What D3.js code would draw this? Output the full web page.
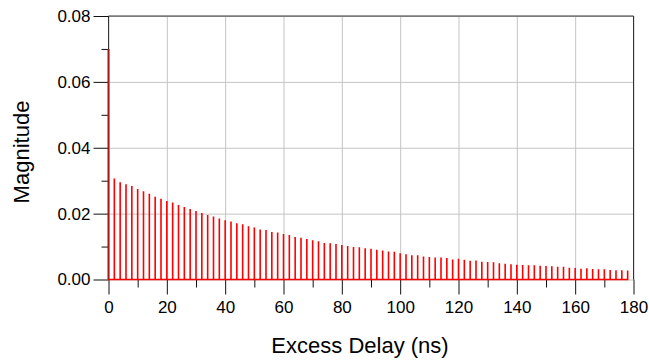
<!DOCTYPE html>
<html>
<head>
<meta charset="utf-8">
<script src="https://cdn.jsdelivr.net/npm/d3@7"></script>
<style>
  html, body { margin: 0; padding: 0; background: #fff; }
  svg text { font-family: Arial, "Liberation Sans", sans-serif; fill: #000; }
</style>
</head>
<body>
<svg id="chart" width="649" height="362"></svg>
<script>
// excess delay (ns) of each tap
const delays = [
  0, 2, 4, 6, 8, 10, 12, 14, 16, 18, 20, 22, 24, 26, 28, 30, 32, 34, 36, 38,
  40, 42, 44, 46, 48, 50, 52, 54, 56, 58, 60, 62, 64, 66, 68, 70, 72, 74, 76, 78,
  80, 82, 84, 86, 88, 90, 92, 94, 96, 98, 100, 102, 104, 106, 108, 110, 112, 114, 116, 118,
  120, 122, 124, 126, 128, 130, 132, 134, 136, 138, 140, 142, 144, 146, 148, 150, 152, 154, 156, 158,
  160, 162, 164, 166, 168, 170, 172, 174, 176, 178,
];
// magnitude of each tap
const magnitudes = [
  0.0700, 0.0307, 0.0295, 0.0289, 0.0284, 0.0275, 0.0268, 0.0260, 0.0251, 0.0245,
  0.0238, 0.0234, 0.0226, 0.0220, 0.0214, 0.0208, 0.0202, 0.0196, 0.0191, 0.0185,
  0.0180, 0.0176, 0.0171, 0.0168, 0.0162, 0.0158, 0.0152, 0.0150, 0.0144, 0.0143,
  0.0138, 0.0135, 0.0129, 0.0127, 0.0123, 0.0119, 0.0116, 0.0111, 0.0110, 0.0108,
  0.0105, 0.0102, 0.0099, 0.0098, 0.0095, 0.0093, 0.0090, 0.0088, 0.0085, 0.0084,
  0.0080, 0.0077, 0.0074, 0.0074, 0.0070, 0.0068, 0.0067, 0.0067, 0.0065, 0.0061,
  0.0063, 0.0060, 0.0057, 0.0058, 0.0054, 0.0053, 0.0052, 0.0049, 0.0048, 0.0046,
  0.0045, 0.0044, 0.0043, 0.0043, 0.0042, 0.0041, 0.0040, 0.0039, 0.0039, 0.0036,
  0.0035, 0.0033, 0.0034, 0.0032, 0.0031, 0.0031, 0.0029, 0.0028, 0.0028, 0.0027,
];
const xTicks = [0, 20, 40, 60, 80, 100, 120, 140, 160, 180];
const xMinorTicks = [10, 30, 50, 70, 90, 110, 130, 150, 170];
const yTicks = [0, 0.02, 0.04, 0.06, 0.08];
const yMinorTicks = [0.01, 0.03, 0.05, 0.07];

const margin = { top: 16, right: 15.5, bottom: 82.5, left: 108.5 };
const svg = d3.select('#chart');
const width = +svg.attr('width') - margin.left - margin.right;
const height = +svg.attr('height') - margin.top - margin.bottom;

const xScale = d3.scaleLinear().domain([0, 180]).range([0, width]);
const yScale = d3.scaleLinear().domain([0, 0.08]).range([height, 0]);

const g = svg.append('g').attr('transform', `translate(${margin.left},${margin.top})`);

// grid
g.append('g')
  .attr('class', 'grid-x')
  .attr('transform', `translate(0,${height})`)
  .call(d3.axisBottom(xScale).tickValues(xTicks).tickSize(-height).tickFormat(''))
  .call((s) => s.select('.domain').remove())
  .selectAll('line')
  .attr('stroke', '#c4c4c4');
g.append('g')
  .attr('class', 'grid-y')
  .call(d3.axisLeft(yScale).tickValues(yTicks).tickSize(-width).tickFormat(''))
  .call((s) => s.select('.domain').remove())
  .selectAll('line')
  .attr('stroke', '#c4c4c4');

// frame
g.append('path')
  .attr('d', `M0,${height}V0H${width}V${height}`)
  .attr('fill', 'none')
  .attr('stroke', '#333')
  .attr('stroke-width', 1);

// minor ticks
g.append('g')
  .attr('transform', `translate(0,${height})`)
  .call(d3.axisBottom(xScale).tickValues(xMinorTicks).tickSize(8).tickFormat(''))
  .call((s) => s.select('.domain').remove())
  .selectAll('line')
  .attr('stroke', '#111');
g.append('g')
  .call(d3.axisLeft(yScale).tickValues(yMinorTicks).tickSize(7).tickFormat(''))
  .call((s) => s.select('.domain').remove())
  .selectAll('line')
  .attr('stroke', '#111');

// major ticks + labels
const xAxis = g.append('g')
  .attr('transform', `translate(0,${height})`)
  .call(d3.axisBottom(xScale).tickValues(xTicks).tickSize(15).tickPadding(6).tickFormat(d3.format('d')))
  .call((s) => s.select('.domain').remove());
xAxis.selectAll('line').attr('stroke', '#111');
xAxis.selectAll('text')
  .attr('font-size', 17)
  .attr('fill', '#000');

const yAxis = g.append('g')
  .call(d3.axisLeft(yScale).tickValues(yTicks).tickSize(15).tickPadding(3).tickFormat(d3.format('.2f')))
  .call((s) => s.select('.domain').remove());
yAxis.selectAll('line').attr('stroke', '#111');
yAxis.selectAll('text')
  .attr('font-size', 17)
  .attr('fill', '#000');

// impulse response drawn as one stem path (baseline included)
const pts = [];
delays.forEach((d, i) => {
  pts.push([xScale(d), yScale(0)]);
  pts.push([xScale(d), yScale(magnitudes[i])]);
  pts.push([xScale(d), yScale(0)]);
});
g.append('path')
  .datum(pts)
  .attr('d', d3.line())
  .attr('fill', 'none')
  .attr('stroke', '#ff0000')
  .attr('stroke-width', 1.6);

// the first tap sits on the left axis, which darkens it
g.append('line')
  .attr('x1', xScale(delays[0]))
  .attr('x2', xScale(delays[0]))
  .attr('y1', yScale(0))
  .attr('y2', yScale(magnitudes[0]))
  .attr('stroke', '#a01818')
  .attr('stroke-width', 1.6);

// axis titles
svg.append('text')
  .attr('x', 360)
  .attr('y', 353)
  .attr('text-anchor', 'middle')
  .attr('font-size', 22)
  .text('Excess Delay (ns)');

svg.append('text')
  .attr('transform', `translate(29,${152}) rotate(-90)`)
  .attr('text-anchor', 'middle')
  .attr('font-size', 22)
  .text('Magnitude');
</script>
</body>
</html>
